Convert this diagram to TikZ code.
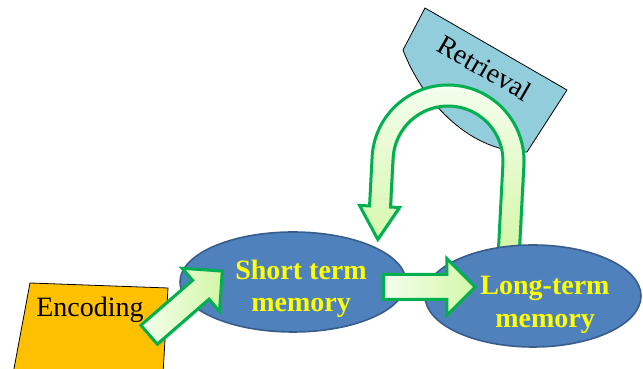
\documentclass[tikz,border=0pt]{standalone}
\usepackage{fontspec}
\setmainfont{Liberation Serif}
\newfontfamily\memfont{Liberation Serif}[UprightFont={* Bold}]
\usetikzlibrary{shapes.geometric,shapes.arrows,shadows}
\definecolor{stmblue}{HTML}{4F81BD}
\definecolor{stmedge}{HTML}{385D8A}
\definecolor{arrowedge}{HTML}{00B050}
\definecolor{arrowpale}{HTML}{F4FEEE}
\definecolor{arrowlime}{HTML}{D3F7A6}
\definecolor{encorange}{HTML}{FFC000}
\definecolor{retblue}{HTML}{92CDDC}
\definecolor{memyellow}{HTML}{FFFF00}
\begin{document}
\begin{tikzpicture}[x=1pt,y=1pt,
  memory/.style={ellipse,draw=stmedge,fill=stmblue,line width=1.6pt,inner sep=0},
  memtext/.style={text=memyellow,font=\memfont\fontsize{28}{32.5}\selectfont,align=center,inner sep=0},
  blockarrow/.style={single arrow,draw=arrowedge,line width=3pt,inner xsep=0,inner ysep=11pt,
    single arrow head extend=16pt,single arrow tip angle=90,left color=arrowpale,right color=arrowlime,
    drop shadow={shadow xshift=2pt,shadow yshift=-2pt,opacity=.25}},
  tag/.style={font=\fontsize{28}{32}\selectfont,inner sep=0}]
\useasboundingbox (0,0) rectangle (643,369);

% retrieval tab
\filldraw[fill=retblue,draw=black,line width=.8pt] (425,361) -- (567,279) -- (527,217)
  .. controls (465,217) and (420,274) .. (403,319) -- cycle;
\node[tag,rotate=-30] (retr) at (485,301) {Retrieval};

% encoding box
\filldraw[fill=encorange,draw=black,line width=.8pt] (30,86) -- (168,81) -- (163,-5) -- (13,-5) -- cycle;
\node[tag,anchor=base] (enc) at (90,52) {Encoding};

\node[memory,minimum width=226pt,minimum height=100pt] (stm) at (293,87) {};

% loop from long term back to short term
\begin{scope}[shift={(448,208)},rotate=-3]
\filldraw[draw=arrowedge,line width=3pt,top color=arrowpale,bottom color=arrowlime,
  drop shadow={shadow xshift=2pt,shadow yshift=-2pt,opacity=.25}]
  (76,-92) -- (76,0) arc[start angle=0,end angle=180,radius=76] -- (-76,-49) -- (-86,-49)
  -- (-66,-82) -- (-46,-49) -- (-55,-49) -- (-55,0) arc[start angle=180,end angle=0,radius=55]
  -- (55,-92) -- cycle;
\end{scope}

\node[memory,minimum width=216pt,minimum height=102pt] (ltm) at (533,73) {};
\node[memtext] (stmlabel) at (301,80) {Short term\\memory};
\node[memtext] (ltmlabel) at (545,64) {Long-term\\memory};

\node[blockarrow,minimum height=92pt] (toltm) at (423,82) {};
\node[blockarrow,minimum height=97pt,rotate=41] (tostm) at (181,62) {};
\end{tikzpicture}
\end{document}
